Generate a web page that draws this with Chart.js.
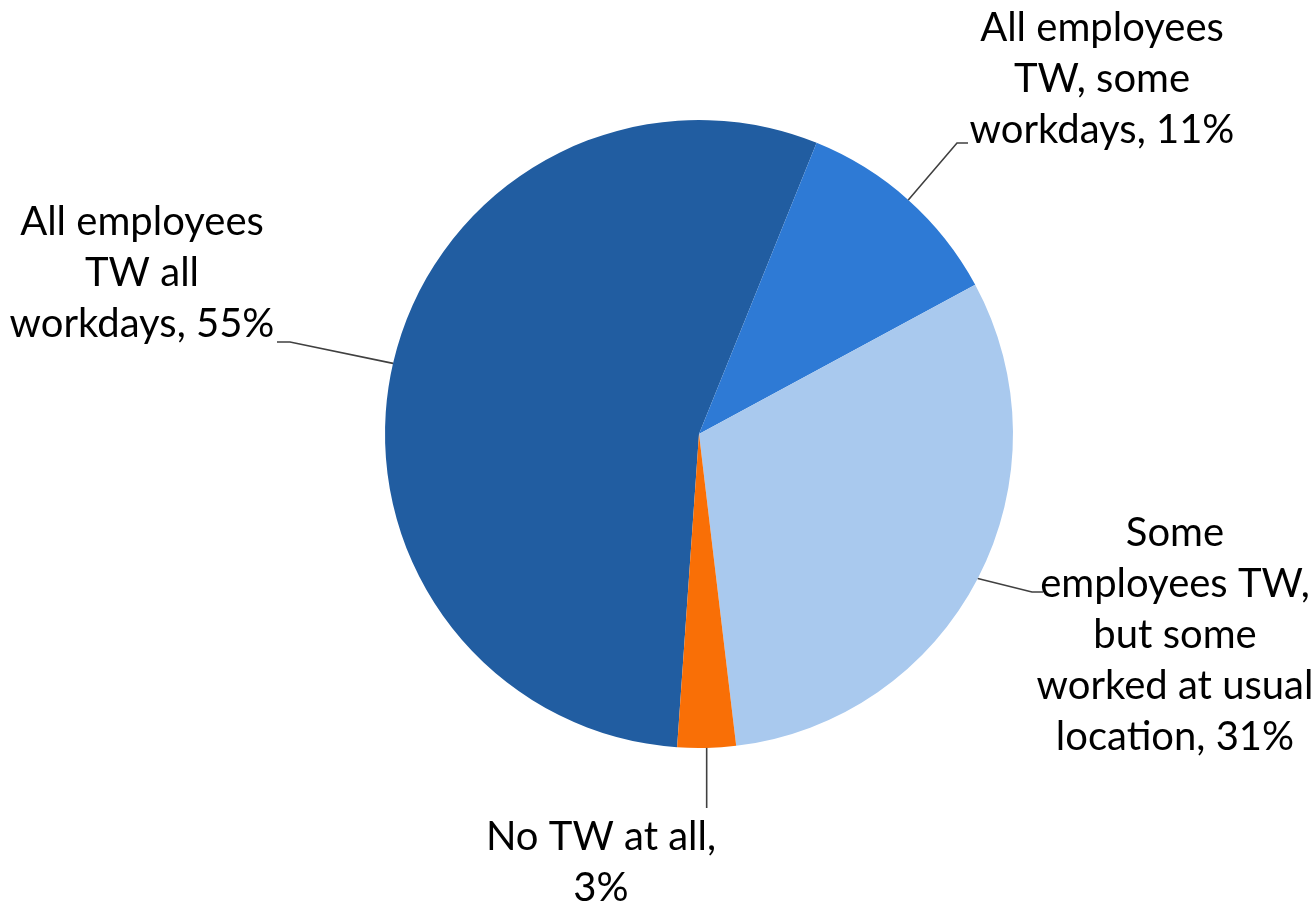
<!DOCTYPE html>
<html>
<head>
<meta charset="utf-8">
<script src="https://cdn.jsdelivr.net/npm/chart.js@4.4.1/dist/chart.umd.min.js"></script>
<style>
  html, body { margin: 0; padding: 0; background: #fff; }
  canvas { display: block; }
</style>
</head>
<body>
<canvas id="pie" width="1316" height="903"></canvas>
<script>
// category names, already broken into the lines shown on the picture
const categories = [
    ['All employees', 'TW all', 'workdays'],
    ['All employees', 'TW, some', 'workdays'],
    ['Some', 'employees TW,', 'but some', 'worked at usual', 'location'],
    ['No TW at all']
]
const shares = [55, 11, 31, 3]
const colors = ['#215DA1', '#2E7AD5', '#A9C9EE', '#F96F06']

// callout placement, relative to the pie centre (px at radius 314)
const callouts = [
    { text: [-557, -161], elbow: [-409, -92], end: [-422, -92] },
    { text: [403, -355], elbow: [258, -291], end: [269, -291] },
    { text: [476, 201], elbow: [333, 158], end: [344, 158] },
    { text: [-98, 429], elbow: null, end: [null, 374], valueOwnLine: true }
]

const calloutPlugin = {
    id: 'callouts',
    afterDatasetsDraw(chart) {
        const ctx = chart.ctx
        const meta = chart.getDatasetMeta(0)
        ctx.save()
        meta.data.forEach((arc, i) => {
            const p = arc.getProps(['x', 'y', 'startAngle', 'endAngle', 'outerRadius'], true)
            const mid = (p.startAngle + p.endAngle) / 2
            const k = p.outerRadius / 314
            const ex = p.x + Math.cos(mid) * p.outerRadius
            const ey = p.y + Math.sin(mid) * p.outerRadius
            const c = callouts[i]

            // leader line
            ctx.strokeStyle = '#404040'
            ctx.lineWidth = 1.6
            ctx.beginPath()
            ctx.moveTo(ex, ey)
            if (c.elbow) ctx.lineTo(p.x + c.elbow[0] * k, p.y + c.elbow[1] * k)
            const endX = c.end[0] === null ? ex : p.x + c.end[0] * k
            ctx.lineTo(endX, p.y + c.end[1] * k)
            ctx.stroke()

            // label text
            const lines = categories[i].slice()
            const value = shares[i] + '%'
            if (c.valueOwnLine) {
                lines[lines.length - 1] += ','
                lines.push(value)
            } else {
                lines[lines.length - 1] += ', ' + value
            }
            const lh = 51
            const cx = p.x + c.text[0] * k
            const cy = p.y + c.text[1] * k
            ctx.fillStyle = '#000'
            ctx.font = '40px Lato'
            ctx.textAlign = 'center'
            ctx.textBaseline = 'middle'
            lines.forEach((t, j) => {
                ctx.fillText(t, cx, cy + (j - (lines.length - 1) / 2) * lh)
            })
        })
        ctx.restore()
    }
}

new Chart(document.getElementById('pie'), {
    type: 'pie',
    data: {
        labels: categories,
        datasets: [{
            data: shares,
            backgroundColor: colors,
            borderWidth: 0
        }]
    },
    options: {
        responsive: false,
        animation: false,
        rotation: -176,
        layout: {
            padding: { top: 120, bottom: 155, left: 385, right: 303 }
        },
        plugins: {
            legend: { display: false },
            tooltip: { enabled: false }
        }
    },
    plugins: [calloutPlugin]
})
</script>
</body>
</html>
